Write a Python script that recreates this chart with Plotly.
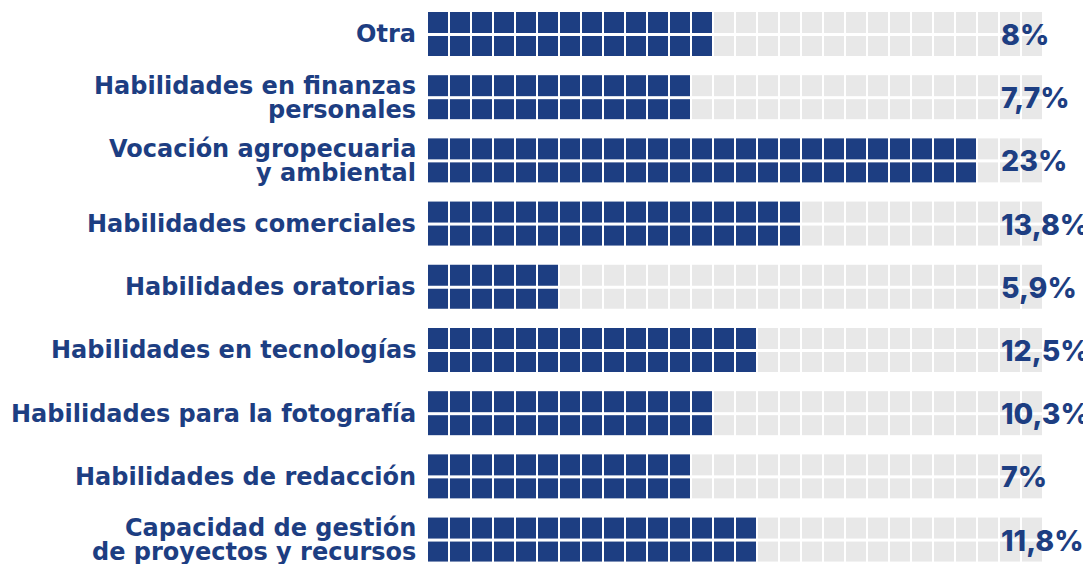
import plotly.graph_objects as go

# ---------------- data ----------------
categories = [
    "Otra",
    "Habilidades en finanzas<br>personales",
    "Vocación agropecuaria<br>y ambiental",
    "Habilidades comerciales",
    "Habilidades oratorias",
    "Habilidades en tecnologías",
    "Habilidades para la fotografía",
    "Habilidades de redacción",
    "Capacidad de gestión<br>de proyectos y recursos",
]
percentages = [8, 7.7, 23, 13.8, 5.9, 12.5, 10.3, 7, 11.8]
filled_cells = [13, 12, 25, 17, 6, 15, 13, 12, 15]
total_cells = 28
rows_per_bar = 2

# ---------------- style ----------------
BLUE = "#1d3e82"
GRAY = "#e8e8e8"
LABEL_FONT = "DejaVu Sans"
PCT_FONT = "Inter"
LABEL_SIZE = 24
PCT_SIZE = 28.5
LINE_GAP = 24        # px between label lines
ROW_OFF = 0.186      # half distance between the two rows of a bar (axis units)

W, H = 1091, 564
fig = go.Figure()

for i, n in enumerate(filled_cells):
    z = [[1 if c < n else 0 for c in range(total_cells)] for _ in range(rows_per_bar)]
    fig.add_trace(go.Heatmap(
        z=z,
        x=list(range(total_cells)),
        y=[i - ROW_OFF, i + ROW_OFF],
        colorscale=[[0, GRAY], [1, BLUE]],
        zmin=0, zmax=1,
        showscale=False,
        xgap=2, ygap=3,
        hoverinfo="skip",
    ))

def fmt(p):
    return f"{p:g}".replace(".", ",") + "%"

annotations = []
for i, (cat, p) in enumerate(zip(categories, percentages)):
    lines = cat.split("<br>")
    n = len(lines)
    for k, line in enumerate(lines):
        annotations.append(dict(
            x=-0.5, y=i, xref="x", yref="y",
            text=line, showarrow=False,
            xanchor="right", yanchor="middle",
            borderpad=0,
            xshift=-10, yshift=-(k - (n - 1) / 2) * LINE_GAP,
            font=dict(family=LABEL_FONT, size=LABEL_SIZE, color=BLUE, weight="bold"),
        ))
    annotations.append(dict(
        x=total_cells - 2.45, y=i, xref="x", yref="y",
        text=fmt(p), showarrow=False,
        xanchor="left", yanchor="middle",
        borderpad=0,
        font=dict(family=PCT_FONT, size=PCT_SIZE, color=BLUE, weight=800),
    ))

fig.update_layout(
    width=W, height=H,
    margin=dict(l=419, r=56, t=0, b=0, pad=0),
    paper_bgcolor="white", plot_bgcolor="white",
    xaxis=dict(range=[-0.5, total_cells - 0.5], visible=False, fixedrange=True),
    yaxis=dict(range=[8.506, -0.419], visible=False, fixedrange=True),
    annotations=annotations,
    showlegend=False,
)

fig.write_html("out.html")
